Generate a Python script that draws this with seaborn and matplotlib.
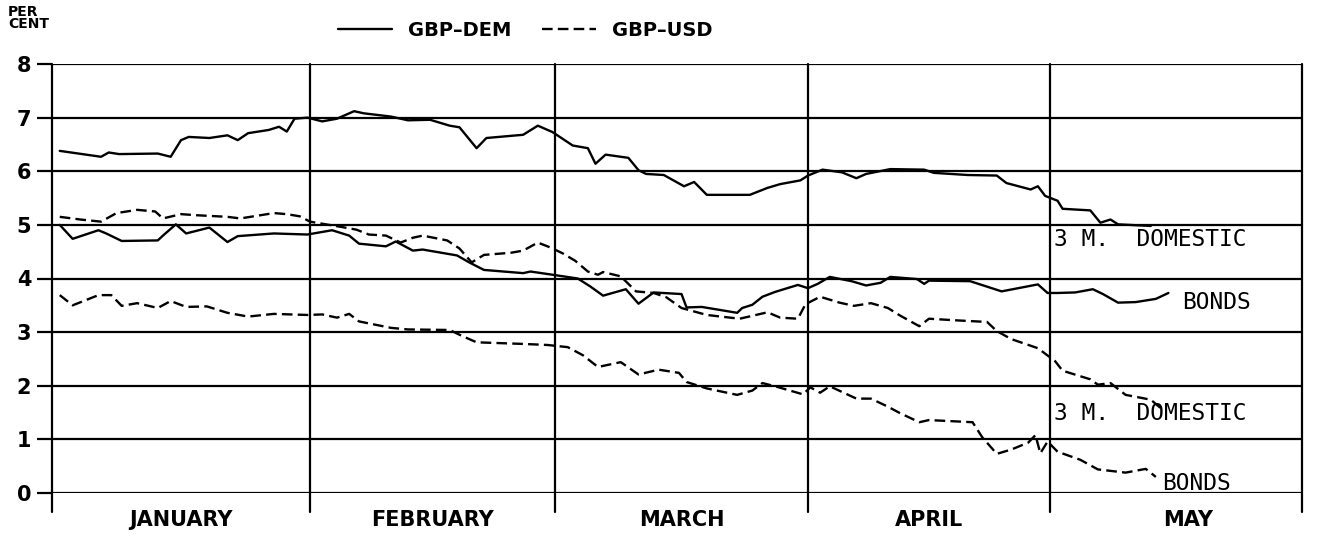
import numpy as np
import pandas as pd
import matplotlib
matplotlib.use("Agg")
import matplotlib.pyplot as plt
from matplotlib.lines import Line2D
import seaborn as sns

# ---- data (x in months from 1 January; values in per cent) ----
months = ["JANUARY", "FEBRUARY", "MARCH", "APRIL", "MAY"]
# month boundaries as drawn on the original time axis (uneven month lengths)
month_edges = [0.0, 1.032, 2.012, 3.024, 3.992, 5.0]
yticks = [0, 1, 2, 3, 4, 5, 6, 7, 8]

dem_3m_x = [0.03, 0.19, 0.22, 0.26, 0.41, 0.46, 0.50, 0.53, 0.61, 0.68, 0.72, 0.76, 0.84, 0.88,
            0.91, 0.94, 0.99, 1.05, 1.11, 1.18, 1.22, 1.33, 1.40, 1.49, 1.57, 1.61, 1.68, 1.72,
            1.87, 1.93, 1.99, 2.07, 2.13, 2.16, 2.20, 2.29, 2.33, 2.36, 2.43, 2.51, 2.55, 2.60,
            2.77, 2.84, 2.89, 2.97, 3.00, 3.06, 3.14, 3.20, 3.24, 3.34, 3.48, 3.52, 3.66, 3.78,
            3.82, 3.92, 3.95, 3.98, 4.03, 4.05, 4.16, 4.20, 4.24, 4.27, 4.40]
dem_3m_y = [6.38, 6.27, 6.35, 6.32, 6.33, 6.27, 6.58, 6.64, 6.62, 6.67, 6.58, 6.71, 6.77, 6.83,
            6.74, 6.98, 7.00, 6.93, 6.98, 7.12, 7.08, 7.02, 6.95, 6.96, 6.85, 6.82, 6.43, 6.62,
            6.68, 6.85, 6.73, 6.48, 6.43, 6.14, 6.31, 6.25, 6.02, 5.95, 5.93, 5.72, 5.80, 5.56,
            5.56, 5.69, 5.76, 5.83, 5.92, 6.03, 5.98, 5.87, 5.95, 6.04, 6.03, 5.97, 5.93, 5.92,
            5.78, 5.66, 5.72, 5.54, 5.45, 5.30, 5.27, 5.04, 5.10, 5.01, 4.98]

dem_bd_x = [0.03, 0.08, 0.18, 0.21, 0.27, 0.41, 0.43, 0.48, 0.52, 0.61, 0.68, 0.72, 0.86, 0.99,
            1.09, 1.16, 1.20, 1.31, 1.35, 1.42, 1.46, 1.60, 1.65, 1.71, 1.87, 1.90, 1.99, 2.09,
            2.14, 2.19, 2.28, 2.33, 2.39, 2.50, 2.52, 2.58, 2.72, 2.74, 2.78, 2.82, 2.87, 2.96,
            3.00, 3.04, 3.09, 3.18, 3.24, 3.30, 3.34, 3.45, 3.48, 3.50, 3.67, 3.80, 3.95, 3.99,
            4.03, 4.10, 4.17, 4.21, 4.27, 4.34, 4.42, 4.47]
dem_bd_y = [5.00, 4.74, 4.90, 4.84, 4.70, 4.71, 4.80, 5.01, 4.84, 4.95, 4.68, 4.79, 4.84, 4.82,
            4.90, 4.80, 4.65, 4.60, 4.69, 4.52, 4.54, 4.43, 4.30, 4.16, 4.10, 4.13, 4.07, 4.00,
            3.85, 3.68, 3.80, 3.53, 3.74, 3.71, 3.46, 3.47, 3.36, 3.45, 3.51, 3.66, 3.75, 3.88,
            3.82, 3.90, 4.03, 3.95, 3.87, 3.92, 4.03, 3.99, 3.90, 3.96, 3.95, 3.76, 3.89, 3.73,
            3.73, 3.74, 3.80, 3.71, 3.55, 3.56, 3.62, 3.73]

usd_3m_x = [0.03, 0.11, 0.19, 0.25, 0.33, 0.40, 0.43, 0.50, 0.56, 0.68, 0.73, 0.86, 0.91, 0.96,
            1.00, 1.13, 1.19, 1.24, 1.31, 1.37, 1.42, 1.46, 1.56, 1.61, 1.66, 1.71, 1.82, 1.87,
            1.93, 1.98, 2.03, 2.08, 2.13, 2.17, 2.19, 2.26, 2.32, 2.39, 2.44, 2.50, 2.60, 2.73,
            2.84, 2.89, 2.96, 2.99, 3.05, 3.13, 3.19, 3.26, 3.33, 3.38, 3.46, 3.50, 3.61, 3.74,
            3.78, 3.84, 3.95, 4.02, 4.05, 4.16, 4.19, 4.24, 4.30, 4.40, 4.44]
usd_3m_y = [5.15, 5.10, 5.06, 5.22, 5.28, 5.25, 5.12, 5.20, 5.18, 5.15, 5.12, 5.22, 5.20, 5.16,
            5.06, 4.96, 4.91, 4.82, 4.80, 4.67, 4.76, 4.80, 4.71, 4.56, 4.30, 4.44, 4.48, 4.52,
            4.67, 4.58, 4.47, 4.33, 4.13, 4.07, 4.12, 4.04, 3.76, 3.73, 3.65, 3.45, 3.32, 3.25,
            3.37, 3.27, 3.25, 3.52, 3.66, 3.55, 3.49, 3.54, 3.45, 3.31, 3.11, 3.25, 3.22, 3.19,
            3.02, 2.87, 2.70, 2.46, 2.28, 2.12, 2.02, 2.05, 1.83, 1.74, 1.58]

usd_bd_x = [0.03, 0.08, 0.18, 0.23, 0.27, 0.33, 0.41, 0.46, 0.52, 0.60, 0.68, 0.76, 0.86, 0.99,
            1.05, 1.11, 1.16, 1.20, 1.33, 1.40, 1.57, 1.62, 1.68, 1.87, 1.97, 2.05, 2.11, 2.17,
            2.26, 2.33, 2.41, 2.49, 2.52, 2.60, 2.72, 2.78, 2.82, 2.87, 2.98, 3.01, 3.05, 3.09,
            3.20, 3.26, 3.33, 3.38, 3.46, 3.50, 3.68, 3.72, 3.78, 3.84, 3.91, 3.94, 3.96, 3.99,
            4.03, 4.12, 4.19, 4.30, 4.38, 4.42]
usd_bd_y = [3.69, 3.50, 3.69, 3.69, 3.49, 3.54, 3.45, 3.58, 3.47, 3.48, 3.36, 3.29, 3.34, 3.32,
            3.33, 3.27, 3.34, 3.20, 3.08, 3.05, 3.04, 2.93, 2.81, 2.78, 2.76, 2.72, 2.57, 2.35,
            2.44, 2.21, 2.30, 2.24, 2.07, 1.95, 1.83, 1.91, 2.05, 1.99, 1.84, 1.97, 1.87, 1.99,
            1.76, 1.76, 1.61, 1.49, 1.32, 1.36, 1.32, 1.04, 0.73, 0.81, 0.94, 1.08, 0.74, 0.96,
            0.77, 0.62, 0.44, 0.38, 0.45, 0.30]

series = [
    ("GBP-DEM", "3 M. DOMESTIC", dem_3m_x, dem_3m_y),
    ("GBP-DEM", "BONDS", dem_bd_x, dem_bd_y),
    ("GBP-USD", "3 M. DOMESTIC", usd_3m_x, usd_3m_y),
    ("GBP-USD", "BONDS", usd_bd_x, usd_bd_y),
]


def to_axis(m):
    """month-fraction -> position on the (uneven) time axis"""
    m = np.asarray(m, dtype=float)
    return np.interp(m, np.arange(len(month_edges)), month_edges)


frames = []
for pair, kind, xs, ys in series:
    frames.append(pd.DataFrame({"t": to_axis(xs), "rate": ys, "pair": pair, "kind": kind}))
df = pd.concat(frames, ignore_index=True)

# ---- figure ----
sns.set_theme(style="white")
plt.rcParams["font.family"] = ["DejaVu Sans"]
plt.rcParams["text.color"] = "black"
plt.rcParams["xtick.color"] = "black"
plt.rcParams["ytick.color"] = "black"

W, H = 1317, 544
fig = plt.figure(figsize=(W / 100, H / 100), dpi=100)
ax = fig.add_axes([52 / W, 51 / H, (1302 - 52) / W, (493 - 64) / H])

LW = 1.7
dash = (4.5, 2.2)
for (pair, kind), sub in df.groupby(["pair", "kind"], sort=False):
    sns.lineplot(data=sub, x="t", y="rate", ax=ax, color="black", lw=LW,
                 estimator=None, sort=False, legend=False)
    if pair == "GBP-USD":
        ax.lines[-1].set_dashes(dash)

ax.set_xlim(month_edges[0], month_edges[-1])
ax.set_ylim(0, 8)

# grid & frame
for y in yticks:
    ax.axhline(y, color="black", lw=1.6, zorder=1)
for x in month_edges:
    ax.plot([x, x], [-0.35, 8], color="black", lw=1.6, clip_on=False, zorder=1)
for s in ax.spines.values():
    s.set_visible(False)

ax.set_yticks(yticks)
ax.set_yticklabels([str(v) for v in yticks], fontsize=15, fontweight="bold", color="black")
ax.tick_params(axis="y", length=11, width=1.6, color="black", pad=4, left=True)
centers = [(a + b) / 2 for a, b in zip(month_edges[:-1], month_edges[1:])]
centers[-1] += 0.05
ax.set_xticks(centers)
ax.set_xticklabels(months, fontsize=15, fontweight="bold", color="black")
ax.tick_params(axis="x", length=0, pad=12)
ax.set_xlabel("")
ax.set_ylabel("")

fig.text(8 / W, 1 - 18 / H, "PER\nCENT", fontsize=10, fontweight="bold",
         ha="left", va="center", linespacing=0.85, color="black")

# series labels on the right
lab_kw = dict(fontsize=16.5, family="DejaVu Sans Mono", ha="left", va="center", color="black")
ax.text(4.01, 4.72, "3 M.  DOMESTIC", **lab_kw)
ax.text(4.52, 3.55, "BONDS", **lab_kw)
ax.text(4.01, 1.48, "3 M.  DOMESTIC", **lab_kw)
ax.text(4.44, 0.18, "BONDS", **lab_kw)

# legend
h1 = Line2D([], [], color="black", lw=LW)
h2 = Line2D([], [], color="black", lw=LW, dashes=dash)
leg = fig.legend([h1, h2], ["GBP\u2013DEM", "GBP\u2013USD"], loc="center",
                 bbox_to_anchor=(525 / W, 1 - 30 / H), ncol=2, frameon=False,
                 handlelength=2.8, columnspacing=1.6, handletextpad=0.8,
                 prop={"size": 14, "weight": "bold"})
for t in leg.get_texts():
    t.set_color("black")

fig.savefig("out.png", dpi=100, facecolor="white")
